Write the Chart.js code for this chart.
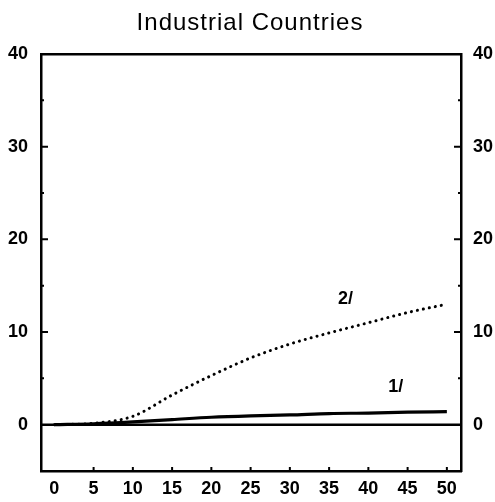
<!DOCTYPE html>
<html>
<head>
<meta charset="utf-8">
<script src="https://cdn.jsdelivr.net/npm/chart.js@4/dist/chart.umd.min.js"></script>
<style>
  html, body { margin: 0; padding: 0; background: #fff; }
  #wrap { width: 495px; height: 502px; }
</style>
</head>
<body>
<div id="wrap"><canvas id="c" width="495" height="502"></canvas></div>
<script>
// Horizon (years) and the two simulated paths
const years = [0, 5, 10, 15, 20, 25, 30, 35, 40, 45, 50];
const series1 = [0, 0.1, 0.3, 0.55, 0.8, 0.95, 1.05, 1.2, 1.25, 1.35, 1.4];
const series2 = [0, 0.15, 0.9, 3.2, 5.3, 7.2, 8.7, 9.9, 11.0, 12.1, 13.0];
const seriesNames = ['1/', '2/'];
const xTicks = [0, 5, 10, 15, 20, 25, 30, 35, 40, 45, 50];
const yTicks = [0, 10, 20, 30, 40];
const yMinorTicks = [5, 15, 25, 35];
const titleText = 'Industrial Countries';

const FONT = '"Liberation Sans", Arial, sans-serif';

const pts = (ys) => years.map((x, i) => ({ x, y: ys[i] }));

// Tick marks drawn inward, zero line, series tags and title
const decor = {
  id: 'decor',
  beforeDatasetsDraw(chart) {
    const { ctx, chartArea: a, scales } = chart;
    const y = scales.y, x = scales.x;
    ctx.save();
    ctx.strokeStyle = '#000';
    ctx.lineWidth = 2;
    ctx.beginPath();
    yTicks.slice(1, -1).forEach(v => {
      const py = y.getPixelForValue(v);
      ctx.moveTo(a.left, py); ctx.lineTo(a.left + 7, py);
      ctx.moveTo(a.right, py); ctx.lineTo(a.right - 7, py);
    });
    yMinorTicks.forEach(v => {
      const py = y.getPixelForValue(v);
      ctx.moveTo(a.left, py); ctx.lineTo(a.left + 3, py);
      ctx.moveTo(a.right, py); ctx.lineTo(a.right - 3, py);
    });
    xTicks.slice(1).forEach(v => {
      const px = x.getPixelForValue(v);
      ctx.moveTo(px, a.bottom); ctx.lineTo(px, a.bottom - 4);
    });
    ctx.stroke();
    // zero line
    const y0 = y.getPixelForValue(0);
    ctx.lineWidth = 2.5;
    ctx.beginPath();
    ctx.moveTo(a.left, y0); ctx.lineTo(a.right, y0);
    ctx.stroke();
    ctx.restore();
  },
  afterDraw(chart, args, opts) {
    const { ctx, scales } = chart;
    ctx.save();
    ctx.fillStyle = '#000';
    ctx.textAlign = 'center';
    ctx.textBaseline = 'middle';
    ctx.font = 'bold 18px ' + FONT;
    opts.tags.forEach(t => {
      ctx.fillText(t.text, scales.x.getPixelForValue(t.x), scales.y.getPixelForValue(t.y));
    });
    ctx.font = '24px ' + FONT;
    ctx.letterSpacing = '1px';
    ctx.fillText(titleText, 250, 23);
    ctx.restore();
  }
};

const tickFont = { family: FONT, size: 18, weight: 'bold' };
const frame = { display: true, color: '#000', width: 2.5 };

new Chart(document.getElementById('c'), {
  type: 'line',
  data: {
    datasets: [
      {
        label: seriesNames[0],
        data: pts(series1),
        borderColor: '#000',
        borderWidth: 3.2,
        pointRadius: 0,
        cubicInterpolationMode: 'monotone'
      },
      {
        label: seriesNames[1],
        data: pts(series2),
        borderColor: '#000',
        borderWidth: 3,
        borderDash: [0.1, 6],
        borderCapStyle: 'round',
        pointRadius: 0,
        cubicInterpolationMode: 'monotone'
      }
    ]
  },
  options: {
    responsive: false,
    animation: false,
    events: [],
    layout: { padding: { top: 54, left: 0, right: 0, bottom: 0 } },
    plugins: {
      legend: { display: false },
      title: { display: false },
      tooltip: { enabled: false },
      decor: {
        tags: [
          { text: seriesNames[1], x: 37.1, y: 13.6 },
          { text: seriesNames[0], x: 43.5, y: 4.1 }
        ]
      }
    },
    scales: {
      x: {
        type: 'linear',
        min: -1.7,
        max: 51.8,
        afterBuildTicks: s => { s.ticks = xTicks.map(v => ({ value: v })); },
        afterFit: s => { s.height = 31; },
        grid: { display: false, drawTicks: false },
        border: frame,
        ticks: { color: '#000', padding: 7, font: tickFont, maxRotation: 0 }
      },
      y: {
        position: 'left',
        min: -5,
        max: 40,
        afterBuildTicks: s => { s.ticks = yTicks.map(v => ({ value: v })); },
        afterFit: s => { s.width = 41; },
        grid: { display: false, drawTicks: false },
        border: frame,
        ticks: { color: '#000', padding: 13, font: tickFont }
      },
      y2: {
        position: 'right',
        min: -5,
        max: 40,
        afterBuildTicks: s => { s.ticks = yTicks.map(v => ({ value: v })); },
        afterFit: s => { s.width = 34; },
        grid: { display: false, drawTicks: false },
        border: frame,
        ticks: { color: '#000', padding: 12, font: tickFont }
      },
      x2: {
        type: 'linear',
        position: 'top',
        min: -1.7,
        max: 51.8,
        afterFit: s => { s.height = 0; },
        grid: { display: false, drawTicks: false },
        border: frame,
        ticks: { display: false }
      }
    }
  },
  plugins: [decor]
});
</script>
</body>
</html>
